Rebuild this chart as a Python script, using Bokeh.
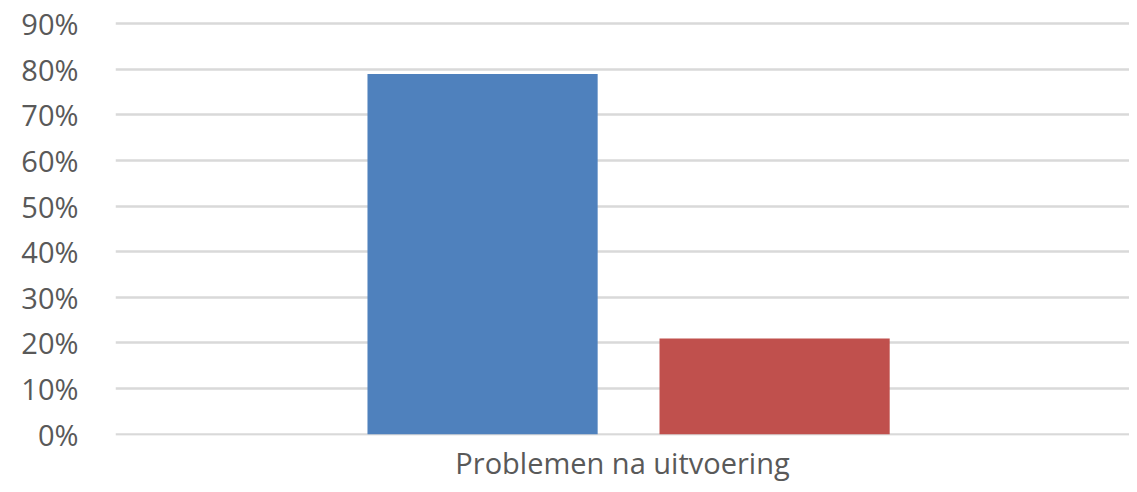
from bokeh.plotting import figure
from bokeh.models import FactorRange, Range1d, NumeralTickFormatter, FixedTicker, ColumnDataSource
from bokeh.transform import dodge
from bokeh.embed import file_html
from bokeh.resources import INLINE

categories = ["Problemen na uitvoering"]
series_names = ["Ja", "Nee"]
series_values = [0.79, 0.21]
series_colors = ["#4F81BD", "#C0504D"]
y_ticks = [0.0, 0.1, 0.2, 0.3, 0.4, 0.5, 0.6, 0.7, 0.8, 0.9]

p = figure(
    width=1129, height=484,
    x_range=FactorRange(*categories, range_padding=0),
    y_range=Range1d(-0.003, 0.905),
    output_backend="svg", toolbar_location=None,
    min_border_left=115, min_border_right=0, min_border_top=21, min_border_bottom=10,
)
p.outline_line_color = None
p.background_fill_color = "white"
p.border_fill_color = "white"

offsets = [-0.138, 0.150]
for name, val, col, off in zip(series_names, series_values, series_colors, offsets):
    src = ColumnDataSource(dict(cat=categories, v=[val]))
    p.vbar(x=dodge("cat", off, range=p.x_range), top="v", bottom=0, width=0.227, source=src,
           fill_color=col, line_color=None)

p.xgrid.grid_line_color = None
p.ygrid.grid_line_color = "#D9D9D9"
p.ygrid.grid_line_width = 2.5
p.ygrid.level = "underlay"

p.yaxis.ticker = FixedTicker(ticks=y_ticks)
p.yaxis.formatter = NumeralTickFormatter(format="0%")
for ax in (p.xaxis, p.yaxis):
    ax.axis_line_color = None
    ax.major_tick_line_color = None
    ax.minor_tick_line_color = None
    ax.major_label_text_font = "Open Sans"
    ax.major_label_text_font_size = "29px"
    ax.major_label_text_color = "#595959"
p.yaxis.major_label_standoff = 31
p.xaxis.major_label_standoff = 1

open("out.html", "w").write(file_html(p, INLINE))
